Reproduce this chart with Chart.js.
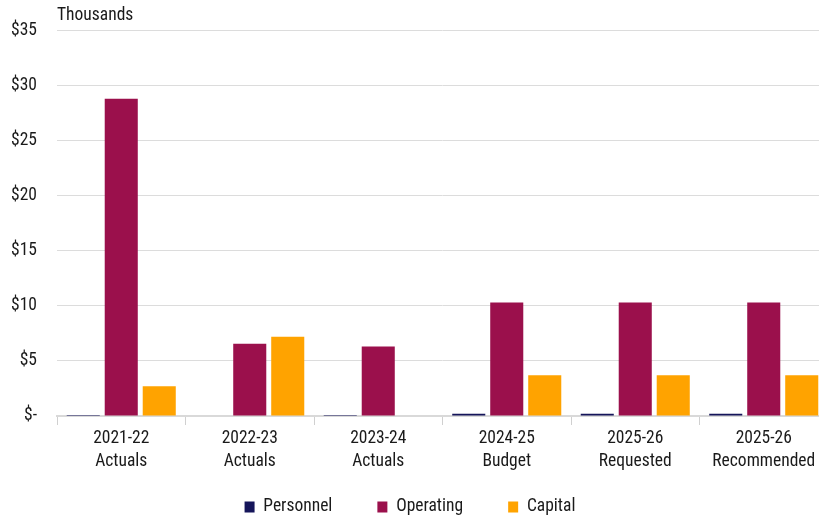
<!DOCTYPE html>
<html><head><meta charset="utf-8">
<script src="https://cdn.jsdelivr.net/npm/chart.js@4"></script>
<style>html,body{margin:0;padding:0;overflow:hidden;background:#fff}#wrap{width:828px;height:519px}</style>
</head><body><div id="wrap"><canvas id="c" width="828" height="519"></canvas></div>
<script>
const categories = [["2021-22","Actuals"],["2022-23","Actuals"],["2023-24","Actuals"],["2024-25","Budget"],["2025-26","Requested"],["2025-26","Recommended"]];
const personnel = [0.08, 0, 0.08, 0.2, 0.2, 0.2];
const operating = [28.8, 6.55, 6.3, 10.3, 10.3, 10.3];
const capital = [2.7, 7.2, 0, 3.7, 3.7, 3.7];
const yTicks = [0,5,10,15,20,25,30,35];
const FONT = "'Liberation Sans Narrow', 'Arial Narrow', 'Roboto Condensed', sans-serif";
const FS = 17.5;
const LP = 45;
const LEGEND_Y = 507;
const LEGEND_SHIFT = -4;
const X_AXIS_H = 57;
const LEGEND_H = 46;

const unitPlugin = {
  id:'unit',
  beforeLayout(chart){
    const lg = chart.legend;
    if (lg && !lg._patched){
      const orig = lg.fit.bind(lg);
      lg.fit = function(){ orig(); this.height = LEGEND_H; };
      lg._patched = true;
    }
  },
  afterLayout(chart){
    const lg = chart.legend;
    if (lg){ lg.top = LEGEND_Y - LP - FS/2; lg.left += LEGEND_SHIFT; lg.right += LEGEND_SHIFT; }
  },
  afterDraw(chart){
    const ctx = chart.ctx;
    ctx.save();
    ctx.font = FS + "px " + FONT;
    ctx.fillStyle = "#1a1a1a";
    ctx.textBaseline = "middle";
    ctx.fillText("Thousands", chart.chartArea.left, 16);
    ctx.restore();
  }
};

new Chart(document.getElementById('c'), {
  type:'bar',
  data:{
    labels: categories,
    datasets:[
      {label:'Personnel', data:personnel, backgroundColor:'#15155a'},
      {label:'Operating', data:operating, backgroundColor:'#9b104c'},
      {label:'Capital', data:capital, backgroundColor:'#ffa300'}
    ]
  },
  options:{
    responsive:false,
    animation:false,
    devicePixelRatio:1,
    layout:{padding:{top:13,left:0,right:0,bottom:0}},
    datasets:{bar:{categoryPercentage:0.887, barPercentage:0.87}},
    plugins:{
      legend:{position:'bottom', labels:{font:{family:FONT,size:FS}, color:'#1a1a1a', boxWidth:10, boxHeight:11, padding:LP}},
      tooltip:{enabled:false}
    },
    scales:{
      x:{
        afterFit(axis){ axis.height = X_AXIS_H; },
        grid:{display:true, drawOnChartArea:false, offset:true, tickLength:9, color:'#d0d0d0'},
        border:{display:true, color:'#d9d9d9', width:2},
        ticks:{font:{family:FONT,size:FS,lineHeight:1.31}, color:'#1a1a1a', padding:2, maxRotation:0}
      },
      y:{
        min:0, max:35,
        afterFit(axis){ axis.width = 57; },
        afterBuildTicks(axis){ axis.ticks = yTicks.map(v=>({value:v})); },
        grid:{color:'#dcdcdc', drawTicks:false, lineWidth:1},
        border:{display:false},
        ticks:{font:{family:FONT,size:FS}, color:'#1a1a1a', padding:20,
          callback:(v)=> v===0 ? '$-' : '$'+v}
      }
    }
  },
  plugins:[unitPlugin]
});
</script>
</body></html>
